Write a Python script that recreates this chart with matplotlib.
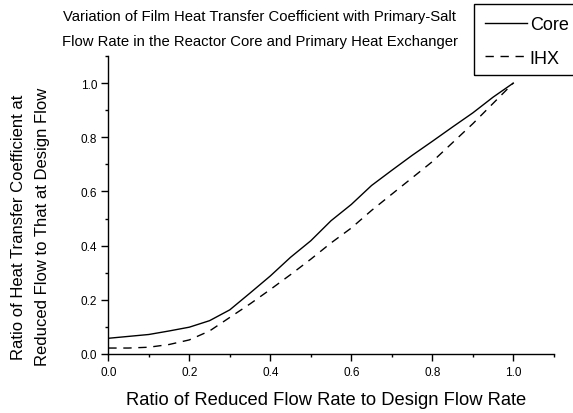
import matplotlib
matplotlib.use("Agg")
import matplotlib.pyplot as plt
from matplotlib.patches import Rectangle
from matplotlib.ticker import MultipleLocator, FormatStrFormatter

plt.rcParams['font.family'] = ['Liberation Sans', 'DejaVu Sans']

# Flow ratio (reduced / design)
flow_ratio = [0.00, 0.05, 0.10, 0.15, 0.20, 0.25, 0.30, 0.35, 0.40, 0.45, 0.50,
              0.55, 0.60, 0.65, 0.70, 0.75, 0.80, 0.85, 0.90, 0.95, 1.00]

# Heat transfer coefficient ratio in the reactor core
core_h = [0.058, 0.065, 0.072, 0.085, 0.099, 0.123, 0.163, 0.225, 0.288, 0.357, 0.418,
          0.492, 0.552, 0.622, 0.678, 0.733, 0.785, 0.838, 0.890, 0.948, 1.000]

# Heat transfer coefficient ratio in the primary heat exchanger
ihx_h = [0.022, 0.022, 0.025, 0.035, 0.052, 0.085, 0.135, 0.185, 0.238, 0.293, 0.350,
         0.410, 0.465, 0.530, 0.590, 0.650, 0.710, 0.780, 0.850, 0.925, 1.000]

series_labels = ["Core", "IHX"]
title_lines = ["Variation of Film Heat Transfer Coefficient with Primary-Salt",
               "Flow Rate in the Reactor Core and Primary Heat Exchanger"]
x_title = "Ratio of Reduced Flow Rate to Design Flow Rate"
y_title = ["Ratio of Heat Transfer Coefficient at",
           "Reduced Flow to That at Design Flow"]

W, H = 573, 414
DPI = 100
fig = plt.figure(figsize=(W / DPI, H / DPI), dpi=DPI)
fig.patch.set_facecolor("white")


def px(x, y):
    """Pixel position (from top-left) to figure fraction."""
    return x / W, 1 - y / H


left, right, bottom, top = 108.3, 553.8, 355.0, 57.0
ax = fig.add_axes([left / W, 1 - bottom / H, (right - left) / W, (bottom - top) / H])

ax.plot(flow_ratio, core_h, color="black", lw=1.0, label=series_labels[0])
ax.plot(flow_ratio, ihx_h, color="black", lw=1.0, dashes=(6, 4.8), label=series_labels[1])

ax.set_xlim(0, 1.1)
ax.set_ylim(0, 1.1)
for s in ("top", "right"):
    ax.spines[s].set_visible(False)
for s in ("left", "bottom"):
    ax.spines[s].set_linewidth(1.0)

ax.xaxis.set_major_locator(MultipleLocator(0.2))
ax.xaxis.set_minor_locator(MultipleLocator(0.1))
ax.yaxis.set_major_locator(MultipleLocator(0.2))
ax.yaxis.set_minor_locator(MultipleLocator(0.1))
ax.xaxis.set_major_formatter(FormatStrFormatter("%.1f"))
ax.yaxis.set_major_formatter(FormatStrFormatter("%.1f"))
ax.tick_params(which="major", direction="out", length=5, width=1.0, labelsize=8.5)
ax.tick_params(which="minor", direction="out", length=2.4, width=1.0)
ax.tick_params(axis="y", which="major", pad=3)
ax.tick_params(axis="x", which="major", pad=4)

# Axis titles
fig.text(*px(326, 405), x_title, ha="center", va="baseline", fontsize=13.2)
fig.text(*px(19, 227), y_title[0], rotation=90, ha="center", va="center", fontsize=12)
fig.text(*px(43, 227), y_title[1], rotation=90, ha="center", va="center", fontsize=12)

# Two-line chart title
fig.text(*px(259.5, 20.5), title_lines[0], ha="center", va="baseline", fontsize=10.7)
fig.text(*px(259.5, 46.3), title_lines[1], ha="center", va="baseline", fontsize=10.7)

# Legend with a rectangular frame running off the right edge
fig.patches.append(Rectangle(px(474.3, 76), (600 - 474.3) / W, 71 / H,
                             transform=fig.transFigure, fill=False,
                             edgecolor="black", lw=1.0, clip_on=False))
leg = ax.legend(loc="upper left", bbox_to_anchor=px(485, 17.5),
                bbox_transform=fig.transFigure, borderaxespad=0, borderpad=0,
                handlelength=2.33, handletextpad=0.15, labelspacing=0.9,
                fontsize=13, frameon=False)

fig.savefig("out.png", dpi=DPI)
